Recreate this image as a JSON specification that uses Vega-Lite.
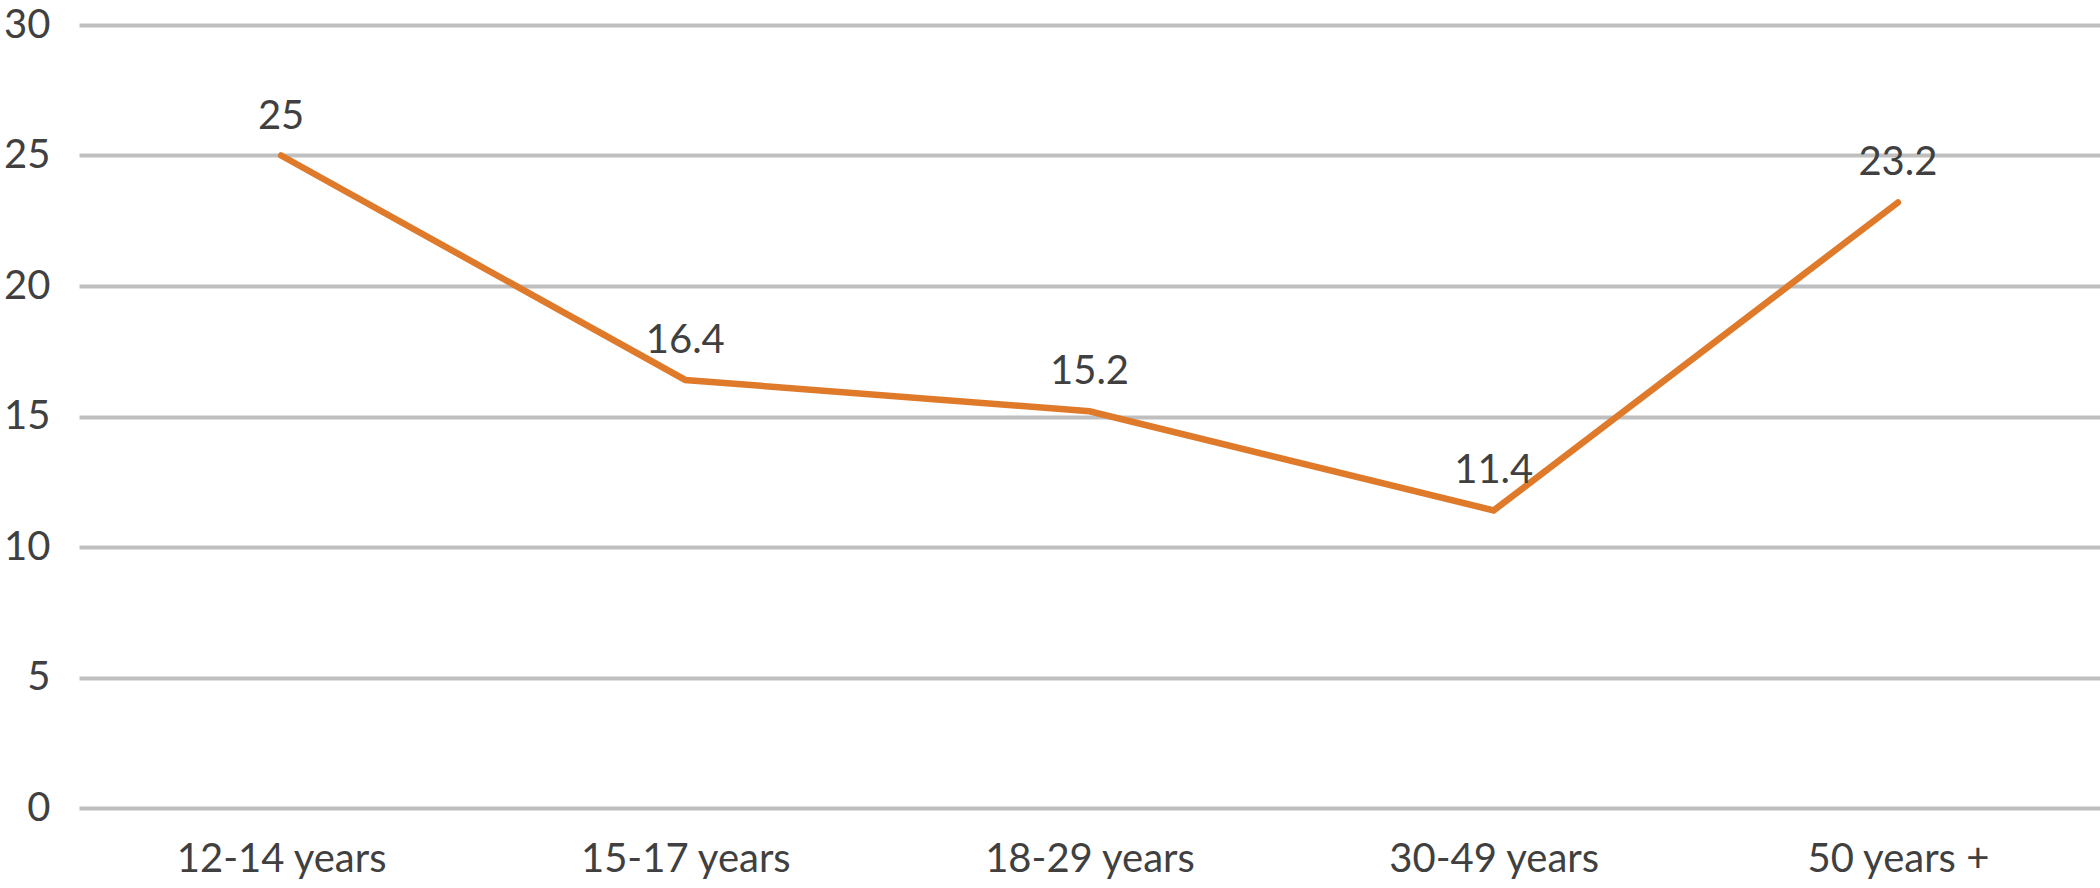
{
  "$schema": "https://vega.github.io/schema/vega-lite/v6.json",
  "autosize": "none",
  "width": 2021,
  "height": 783,
  "padding": {"left": 79, "top": 25, "right": 0, "bottom": 80},
  "background": "white",
  "config": {"view": {"stroke": null}, "font": "Lato"},
  "data": {"values": [
    {"age": "12-14 years", "value": 25},
    {"age": "15-17 years", "value": 16.4},
    {"age": "18-29 years", "value": 15.2},
    {"age": "30-49 years", "value": 11.4},
    {"age": "50 years +", "value": 23.2}
  ]},
  "encoding": {
    "x": {"field": "age", "type": "nominal", "sort": null,
      "scale": {"paddingInner": 0, "paddingOuter": 0},
      "axis": {"title": null, "labelAngle": 0, "labelFontSize": 40, "labelColor": "#404040", "labelPadding": 31, "labelLimit": 0, "ticks": false, "domain": false, "grid": false, "labelFont": "Lato"}},
    "y": {"field": "value", "type": "quantitative",
      "scale": {"domain": [0, 30], "nice": false},
      "axis": {"title": null, "values": [0, 5, 10, 15, 20, 25, 30], "labelFontSize": 40, "labelColor": "#404040", "labelPadding": 29, "labelLimit": 0, "labelFlush": false, "ticks": false, "domain": false, "gridColor": "#bfbfbf", "gridWidth": 4, "labelFont": "Lato"}}
  },
  "layer": [
    {"mark": {"type": "line", "color": "#e07a2b", "strokeWidth": 6.5, "strokeCap": "round", "strokeJoin": "miter"}},
    {"mark": {"type": "text", "dy": -27, "baseline": "alphabetic", "fontSize": 40, "color": "#404040", "font": "Lato"},
      "encoding": {"text": {"field": "value", "type": "quantitative"}}}
  ]
}
